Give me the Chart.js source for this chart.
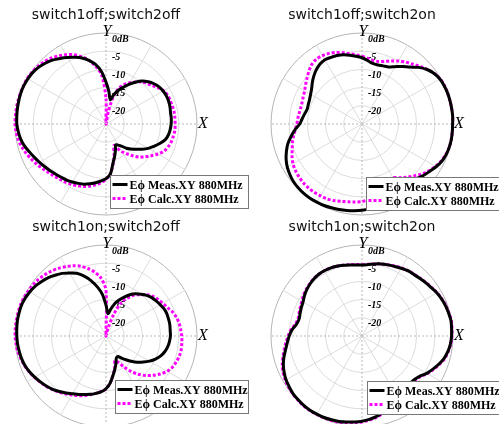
<!DOCTYPE html>
<html>
<head>
<meta charset="utf-8">
<script src="https://cdn.jsdelivr.net/npm/chart.js@4.4.0/dist/chart.umd.min.js"></script>
<style>
  html, body { margin: 0; padding: 0; background: #fff; overflow: hidden; }
  body { width: 499px; height: 424px; position: relative; }
  canvas { position: absolute; }
</style>
</head>
<body>
<canvas id="c1" width="250" height="232" style="left:0;top:0;width:250px;height:232px"></canvas>
<canvas id="c2" width="249" height="232" style="left:250px;top:0;width:249px;height:232px"></canvas>
<canvas id="c3" width="250" height="232" style="left:0;top:212px;width:250px;height:232px"></canvas>
<canvas id="c4" width="249" height="232" style="left:250px;top:212px;width:249px;height:232px"></canvas>
<script>
// angle phi in degrees, counter-clockwise from +X, every 5 degrees
const phi = [];
for (let a = 0; a < 360; a += 5) phi.push(a);

const ringValues = [0, -5, -10, -15, -20];
const ringLabels = ['0dB', '-5', '-10', '-15', '-20'];
const seriesNames = ['E\u03d5 Meas.XY 880MHz', 'E\u03d5 Calc.XY 880MHz'];
const titles = ['switch1off;switch2off', 'switch1off;switch2on', 'switch1on;switch2off', 'switch1on;switch2on'];

// dB values at phi = 0, 5, ... 355
const offOffMeas = [-7.1, -7.0, -7.0, -6.8, -6.7, -6.7, -6.9, -7.2, -7.8, -8.6, -9.6, -11.0,
  -12.4, -13.9, -15.2, -16.6, -18.2, -16.0, -13.5, -10.5, -8.4, -6.9, -5.7, -4.8,
  -3.9, -3.0, -2.1, -1.4, -0.8, -0.4, -0.2, -0.1, -0.1, -0.2, -0.3, -0.4,
  -0.5, -0.8, -1.2, -1.8, -2.6, -3.3, -3.9, -4.5, -5.0, -5.5, -5.9, -6.2,
  -6.6, -7.0, -7.4, -8.0, -8.6, -9.3, -10.0, -11.2, -14.0, -15.8, -17.4, -18.7,
  -18.3, -17.6, -16.3, -15.3, -14.2, -12.9, -11.6, -10.5, -9.3, -8.2, -7.6, -7.3];
const offOffCalc = [-6.0, -6.0, -6.0, -6.1, -6.2, -6.3, -6.7, -7.6, -8.5, -9.2, -9.9, -10.9,
  -11.9, -13.0, -14.5, -17.3, -22.0, -25.0, -18.0, -11.5, -9.0, -6.9, -5.3, -4.0,
  -3.0, -2.2, -1.4, -0.9, -0.5, -0.2, 0, 0, 0, 0, 0, 0,
  0, -0.2, -0.5, -1.0, -1.6, -2.3, -3.0, -3.7, -4.3, -4.8, -5.2, -5.5,
  -5.9, -6.3, -6.7, -7.3, -8.0, -8.8, -9.8, -11.3, -13.8, -16.3, -18.7, -17.6,
  -16.2, -15.0, -13.6, -12.2, -11.0, -9.8, -8.5, -7.4, -6.8, -6.4, -6.2, -6.0];

const offOnMeas = [-0.1, 0, 0, 0, 0, -0.1, -0.3, -0.8, -1.7, -3.0, -4.6, -5.7,
  -6.8, -7.7, -8.0, -8.2, -8.1, -7.5, -6.8, -6.3, -5.8, -5.3, -5.0, -4.8,
  -4.6, -4.9, -5.5, -6.3, -7.2, -8.1, -8.7, -9.1, -9.3, -9.4, -9.0, -8.5,
  -7.9, -6.5, -5.2, -3.9, -2.9, -2.0, -1.3, -0.8, -0.4, -0.2, -0.1, -0.1,
  -0.2, -0.3, -0.5, -0.7, -0.9, -1.1, -1.3, -1.6, -2.1, -3.0, -4.2, -5.6,
  -6.8, -5.8, -4.7, -3.8, -3.0, -2.3, -1.5, -0.8, -0.4, -0.2, -0.1, -0.1];
const offOnCalc = [-0.1, 0, 0, 0, 0, 0, -0.2, -0.8, -1.6, -2.6, -3.5, -4.2,
  -5.0, -5.9, -6.7, -7.2, -7.3, -6.9, -6.4, -5.9, -5.4, -4.7, -4.1, -3.6,
  -3.3, -3.2, -3.6, -4.4, -5.3, -6.1, -6.8, -7.2, -7.5, -7.6, -7.5, -7.3,
  -7.1, -6.6, -5.9, -5.2, -4.6, -3.8, -3.1, -2.7, -2.4, -2.2, -2.1, -2.1,
  -2.2, -2.3, -2.6, -3.0, -3.3, -3.5, -3.7, -4.2, -5.0, -6.0, -7.0, -7.8,
  -8.0, -7.0, -5.9, -4.8, -3.6, -2.6, -1.7, -1.0, -0.5, -0.2, -0.1, -0.1];

const onOffMeas = [-7.3, -7.3, -7.2, -7.2, -7.2, -7.4, -7.8, -8.2, -8.6, -9.2, -10.0, -10.8,
  -11.9, -13.2, -14.5, -15.8, -17.5, -18.8, -16.5, -13.5, -11.3, -9.3, -7.5, -6.0,
  -5.0, -4.0, -3.2, -2.4, -1.8, -1.2, -0.8, -0.5, -0.3, -0.3, -0.3, -0.4,
  -0.5, -0.6, -0.8, -1.0, -1.3, -1.8, -2.4, -3.0, -3.6, -4.3, -5.1, -5.9,
  -6.7, -7.3, -7.9, -8.4, -9.0, -9.6, -10.5, -12.0, -14.0, -15.6, -17.0, -18.3,
  -18.5, -17.6, -16.5, -15.2, -13.8, -12.5, -11.2, -10.0, -9.0, -8.3, -7.8, -7.5];
const onOffCalc = [-4.2, -4.4, -4.6, -5.0, -5.6, -6.4, -7.0, -7.5, -8.1, -9.0, -10.2, -11.3,
  -12.9, -14.6, -18.5, -22.5, -24.5, -25.0, -12.5, -9.0, -7.2, -5.8, -4.6, -3.7,
  -3.0, -2.3, -1.7, -1.2, -0.8, -0.5, -0.3, -0.1, 0, 0, 0, 0,
  0, -0.2, -0.4, -0.8, -1.2, -1.7, -2.3, -2.9, -3.5, -4.2, -4.9, -5.6,
  -6.3, -6.9, -7.6, -8.3, -9.0, -9.7, -10.5, -12.0, -14.0, -15.8, -17.8, -17.0,
  -15.2, -13.2, -11.3, -9.7, -8.2, -6.8, -5.6, -4.8, -4.4, -4.1, -4.0, -4.1];

const onOnMeas = [-0.4, -0.3, -0.2, -0.4, -0.6, -0.9, -1.3, -1.8, -2.2, -2.6, -2.9, -3.1,
  -3.5, -3.9, -4.2, -4.5, -4.9, -5.3, -5.5, -5.4, -5.2, -4.9, -4.6, -4.4,
  -4.3, -4.3, -4.5, -4.8, -5.2, -5.7, -6.3, -6.6, -6.9, -7.1, -6.7, -5.7,
  -5.0, -4.4, -3.7, -2.8, -2.0, -1.4, -0.9, -0.6, -0.3, -0.2, -0.1, -0.1,
  -0.2, -0.3, -0.5, -0.7, -1.0, -1.3, -1.6, -2.0, -2.5, -3.2, -4.0, -4.8,
  -5.5, -6.0, -6.3, -6.4, -6.3, -5.7, -4.5, -3.5, -2.5, -1.6, -1.0, -0.6];
const onOnCalc = [-0.3, -0.2, -0.1, -0.3, -0.5, -0.8, -1.2, -1.7, -2.1, -2.5, -2.8, -3.1,
  -3.4, -3.8, -4.2, -4.5, -4.9, -5.2, -5.4, -5.3, -5.1, -4.9, -4.6, -4.4,
  -4.3, -4.3, -4.4, -4.7, -5.0, -5.4, -5.9, -6.3, -6.6, -6.8, -6.4, -5.4,
  -4.7, -4.0, -3.3, -2.5, -1.7, -1.1, -0.7, -0.4, -0.2, -0.1, 0, 0,
  -0.1, -0.2, -0.3, -0.5, -0.8, -1.1, -1.4, -1.8, -2.3, -3.0, -3.8, -4.6,
  -5.3, -5.8, -6.1, -6.2, -6.0, -5.5, -4.3, -3.3, -2.3, -1.4, -0.9, -0.5];

// radar index 0 sits at the top and runs clockwise, so index i is phi = 90 - 5i
function toRadar(vals) {
  return phi.map((_, i) => {
    const a = (((90 - 5 * i) % 360) + 360) % 360;
    return vals[a / 5];
  });
}

// rings, axis letters and the boxed legend
const polarDecor = {
  id: 'polarDecor',
  beforeDatasetsDraw(chart) {
    const r = chart.scales.r, ctx = chart.ctx;
    const cx = r.xCenter, cy = r.yCenter;
    ctx.save();
    ctx.fillStyle = '#000';
    ctx.textBaseline = 'middle';
    ctx.textAlign = 'left';
    ctx.font = 'italic bold 10px "Liberation Serif", "Times New Roman", serif';
    ringValues.forEach((v, k) => {
      const d = r.getDistanceFromCenterForValue(v);
      ctx.fillText(ringLabels[k], cx + 6, cy - d + 6);
    });
    ctx.font = 'italic 16px "Liberation Serif", "Times New Roman", serif';
    ctx.textAlign = 'center';
    ctx.fillText('Y', cx + 1, cy - r.drawingArea - 1);
    ctx.textAlign = 'left';
    ctx.fillText('X', cx + r.drawingArea + 1, cy);
    ctx.restore();
  },
  afterDraw(chart, args, opts) {
    const r = chart.scales.r, ctx = chart.ctx;
    const L = Math.round(r.xCenter + opts.dx) + 0.5;
    const T = Math.round(r.yCenter + opts.dy) + 0.5;
    ctx.save();
    ctx.fillStyle = '#fff';
    ctx.fillRect(L, T, opts.w, 33);
    ctx.strokeStyle = '#777';
    ctx.lineWidth = 1;
    ctx.strokeRect(L, T, opts.w, 33);
    ctx.font = 'bold 12px "Liberation Serif", "Times New Roman", serif';
    ctx.textAlign = 'left';
    ctx.textBaseline = 'middle';
    chart.data.datasets.forEach((ds, k) => {
      const y = T + 9 + k * 14;
      ctx.strokeStyle = ds.borderColor;
      ctx.lineWidth = 3;
      ctx.setLineDash(ds.borderDash || []);
      ctx.beginPath();
      ctx.moveTo(L + 2, y);
      ctx.lineTo(L + 17, y);
      ctx.stroke();
      ctx.setLineDash([]);
      ctx.fillStyle = '#000';
      ctx.fillText(ds.label, L + 19, y + 1);
    });
    ctx.restore();
  }
};

function makePolar(id, title, meas, calc, padLeft, legend) {
  const canvas = document.getElementById(id);
  const W = canvas.width, H = canvas.height;
  return new Chart(canvas, {
    type: 'radar',
    data: {
      labels: phi,
      datasets: [
        { label: seriesNames[0], data: toRadar(meas), borderColor: '#000000', borderWidth: 3,
          fill: false, backgroundColor: 'transparent', clip: false },
        { label: seriesNames[1], data: toRadar(calc), borderColor: '#ff00ff', borderWidth: 3,
          borderDash: [3, 2], fill: false, backgroundColor: 'transparent', clip: false }
      ]
    },
    options: {
      responsive: false,
      animation: false,
      layout: { padding: { left: padLeft, right: W - padLeft - 182, top: 0, bottom: H - 215.3 } },
      elements: { point: { radius: 0 }, line: { tension: 0.3 } },
      plugins: {
        legend: { display: false },
        tooltip: { enabled: false },
        title: {
          display: true,
          text: title,
          color: '#111',
          font: { family: '"DejaVu Sans", sans-serif', size: 14, weight: 'normal' },
          padding: { top: 7, bottom: 9.5 }
        },
        polarDecor: legend
      },
      scales: {
        r: {
          min: -25,
          max: 0,
          ticks: { display: false, stepSize: 5 },
          pointLabels: { display: false },
          grid: {
            circular: true,
            lineWidth: 1,
            color: (c) => (c.tick && c.tick.value === 0 ? '#b5b5b5' : '#dcdcdc')
          },
          angleLines: {
            lineWidth: 1,
            color: (c) => (c.index % 18 === 0 ? '#b8b8b8' : (c.index % 6 === 0 ? '#dcdcdc' : 'rgba(0,0,0,0)')),
            borderDash: (c) => (c.index % 18 === 0 ? [2, 2] : [])
          }
        }
      }
    },
    plugins: [polarDecor]
  });
}

makePolar('c1', titles[0], offOffMeas, offOffCalc, 15, { dx: 4, dy: 51, w: 138 });
makePolar('c2', titles[1], offOnMeas, offOnCalc, 21, { dx: 4, dy: 53, w: 140 });
makePolar('c3', titles[2], onOffMeas, onOffCalc, 15, { dx: 9, dy: 44, w: 133 });
makePolar('c4', titles[3], onOnMeas, onOnCalc, 21, { dx: 5, dy: 45, w: 140 });
</script>
</body>
</html>
